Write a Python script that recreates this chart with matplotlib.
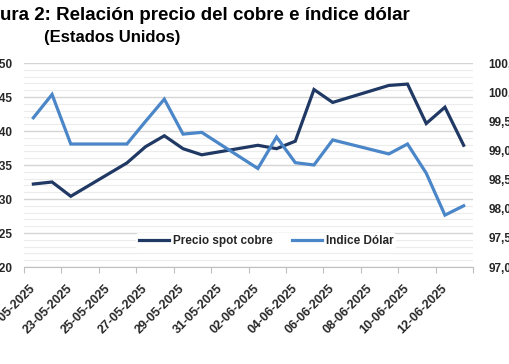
import matplotlib.pyplot as plt
import matplotlib.dates as mdates
from matplotlib.ticker import MultipleLocator, FuncFormatter
import pandas as pd

plt.rcParams['font.family'] = ['Liberation Sans', 'DejaVu Sans']

# business days in the reference (weekends skipped on a date axis)
fechas = ['21-05-2025', '22-05-2025', '23-05-2025', '26-05-2025', '27-05-2025',
          '28-05-2025', '29-05-2025', '30-05-2025', '02-06-2025', '03-06-2025',
          '04-06-2025', '05-06-2025', '06-06-2025', '09-06-2025', '10-06-2025',
          '11-06-2025', '12-06-2025', '13-06-2025']
cobre = [4.322, 4.325, 4.304, 4.353, 4.377, 4.393, 4.374, 4.365, 4.379, 4.374,
         4.385, 4.461, 4.442, 4.467, 4.469, 4.411, 4.435, 4.379]
dolar = [99.56, 99.96, 99.11, 99.11, 99.50, 99.88, 99.28, 99.31, 98.69, 99.23,
         98.79, 98.75, 99.18, 98.94, 99.11, 98.61, 97.89, 98.05]

dias = pd.to_datetime(fechas, format='%d-%m-%Y')
half = pd.Timedelta(hours=12)

oscuro = '#203864'
claro = '#4a86c8'
txt = '#262626'

fig = plt.figure(figsize=(5.1, 3.64), dpi=100)
ax = fig.add_axes([24/510, 97/364, 449/510, 204/364])
ax2 = ax.twinx()

l1, = ax.plot(dias, cobre, color=oscuro, lw=2.3, solid_joinstyle='miter', zorder=3)
l2, = ax2.plot(dias, dolar, color=claro, lw=2.3, solid_joinstyle='miter', zorder=3)

ax.set_ylim(4.20, 4.50)
ax2.set_ylim(97.0, 100.5)
ax.set_xlim(dias[0] - half, dias[-1] + half)

ax.yaxis.set_major_locator(MultipleLocator(0.05))
ax.yaxis.set_minor_locator(MultipleLocator(0.01))
ax2.yaxis.set_major_locator(MultipleLocator(0.5))
ax.yaxis.set_major_formatter(FuncFormatter(lambda v, p: f'{v:.2f}'.replace('.', ',')))
ax2.yaxis.set_major_formatter(FuncFormatter(lambda v, p: f'{v:.2f}'.replace('.', ',')))

ax.grid(which='major', axis='y', color='#d4d4d4', lw=1.0)
ax.grid(which='minor', axis='y', color='#ececec', lw=0.8)
ax.set_axisbelow(True)

etiquetas = pd.date_range('2025-05-21', '2025-06-12', freq='2D')
bordes = pd.date_range('2025-05-21', '2025-06-14', freq='2D') - half
ax.set_xticks(etiquetas)
ax.xaxis.set_major_formatter(mdates.DateFormatter('%d-%m-%Y'))
ax.set_xticks(bordes, minor=True)
ax.tick_params(axis='x', which='major', length=0, pad=14, labelsize=9, colors=txt)
ax.tick_params(axis='x', which='minor', length=4, width=0.8, color='#bfbfbf', direction='out')
for t in ax.get_xticklabels():
    t.set_rotation(45)
    t.set_ha('right')
    t.set_va('center')
    t.set_rotation_mode('anchor')
    t.set_fontweight('bold')

ax.tick_params(axis='y', which='both', length=0, pad=8, labelsize=8.5, colors=txt)
ax2.tick_params(axis='y', which='both', length=0, pad=11, labelsize=8.5, colors=txt)
for t in ax.get_yticklabels() + ax2.get_yticklabels():
    t.set_fontweight('bold')

for a in (ax, ax2):
    for s in ('top', 'left', 'right'):
        a.spines[s].set_visible(False)
    a.spines['bottom'].set_color('#bfbfbf')
ax2.spines['bottom'].set_visible(False)

leg = ax2.legend([l1, l2], ['Precio spot cobre', 'Indice Dólar'], loc='center',
                 bbox_to_anchor=(0.539, 0.127), ncol=2, frameon=True,
                 facecolor='white', edgecolor='none', framealpha=1,
                 handlelength=2.6, handletextpad=0.3, columnspacing=1.6,
                 borderpad=0.2, prop={'size': 8.5, 'weight': 'bold'})
for t in leg.get_texts():
    t.set_color(txt)

fig.text(-28/510, 1 - 20/364, 'Figura 2: Relación precio del cobre e índice dólar',
         ha='left', va='baseline', fontsize=13.5, fontweight='bold', color='black')
fig.text(44/510, 1 - 42/364, '(Estados Unidos)', ha='left', va='baseline',
         fontsize=12, fontweight='bold', color='black')

fig.savefig('out.png', dpi=100)
